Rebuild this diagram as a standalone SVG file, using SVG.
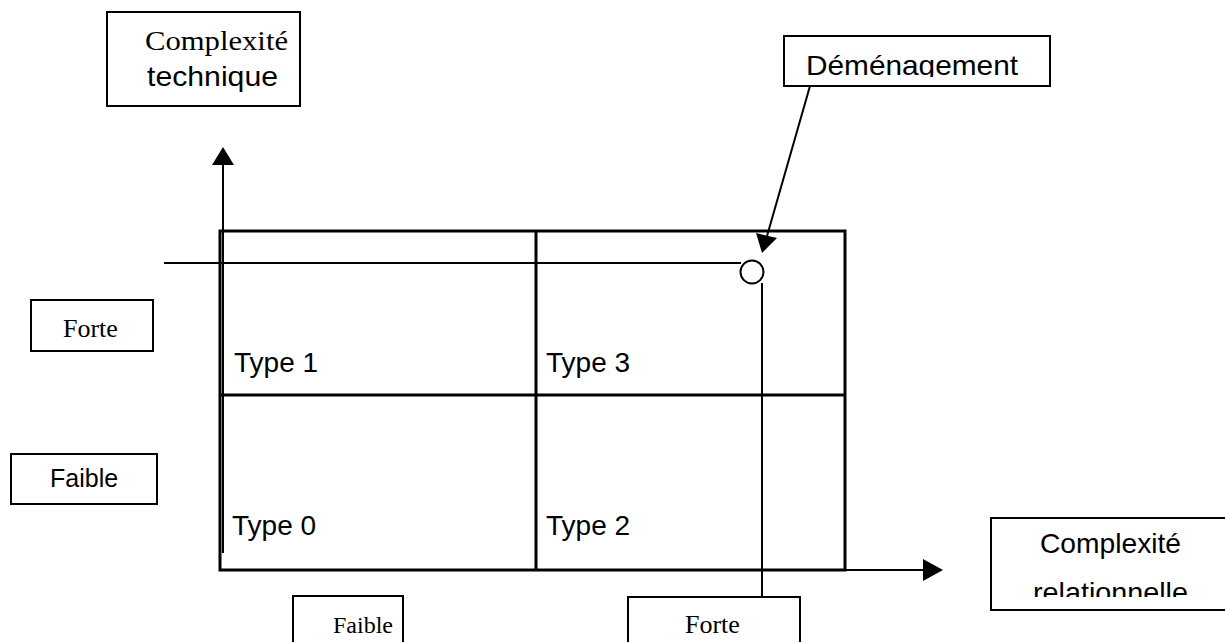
<svg xmlns="http://www.w3.org/2000/svg" width="1225" height="642" viewBox="0 0 1225 642">
<style>
.box{fill:#fff;stroke:#000;stroke-width:2}
.sans{font-family:"Liberation Sans",Arial,sans-serif;fill:#000}
.serif{font-family:"Liberation Serif","Times New Roman",serif;fill:#000}
.thin{stroke:#000;stroke-width:2;fill:none}
.grid{stroke:#000;stroke-width:3;fill:none}
</style>
<defs>
<clipPath id="clipDem"><rect x="784" y="36" width="266" height="41"/></clipPath>
<clipPath id="clipRel"><rect x="991" y="500" width="234" height="97"/></clipPath>
</defs>

<g id="matrix">
<rect class="grid" x="220" y="231" width="625" height="339"/>
<line class="grid" x1="536" y1="231" x2="536" y2="570"/>
<line class="grid" x1="220" y1="395" x2="845" y2="395"/>
</g>

<g id="connectors">
<line class="thin" x1="223" y1="553" x2="223" y2="165"/>
<path d="M212,165 L234,165 L223,147 z" fill="#000"/>
<line class="thin" x1="845" y1="570" x2="923" y2="570"/>
<path d="M923,559 L923,581 L943,570 z" fill="#000"/>
<line class="thin" x1="164" y1="263" x2="741" y2="263"/>
<line class="thin" x1="762" y1="283" x2="762" y2="618"/>
<line class="thin" x1="810" y1="86" x2="767" y2="236"/>
<path d="M762,253 L756,233 L777,238 z" fill="#000"/>
</g>

<g id="point"><circle cx="752" cy="272" r="11.5" fill="#fff" stroke="#000" stroke-width="2"/></g>

<g id="cells">
<text class="sans" x="234" y="372" font-size="28">Type 1</text>
<text class="sans" x="546" y="372" font-size="28">Type 3</text>
<text class="sans" x="232" y="535" font-size="28">Type 0</text>
<text class="sans" x="546" y="535" font-size="28">Type 2</text>
</g>

<g id="label-tech">
<rect class="box" x="107" y="12" width="193" height="94"/>
<text class="serif" x="145" y="50" font-size="28" textLength="143" lengthAdjust="spacingAndGlyphs">Complexité</text>
<text class="sans" x="147" y="86" font-size="28" textLength="131" lengthAdjust="spacingAndGlyphs">technique</text>
</g>

<g id="label-dem">
<rect class="box" x="784" y="36" width="266" height="50"/>
<text class="sans" x="806" y="75" font-size="28" textLength="212" lengthAdjust="spacingAndGlyphs" clip-path="url(#clipDem)">Déménagement</text>
</g>

<g id="label-rel">
<rect class="box" x="991" y="518" width="240" height="92"/>
<text class="sans" x="1040" y="553" font-size="28" textLength="141" lengthAdjust="spacingAndGlyphs">Complexité</text>
<text class="sans" x="1033" y="602" font-size="28" textLength="155" lengthAdjust="spacingAndGlyphs" clip-path="url(#clipRel)">relationnelle</text>
</g>

<g id="y-forte">
<rect class="box" x="31" y="300" width="122" height="51"/>
<text class="serif" x="63" y="337" font-size="26">Forte</text>
</g>

<g id="y-faible">
<rect class="box" x="11" y="454" width="146" height="50"/>
<text class="sans" x="50" y="487" font-size="25">Faible</text>
</g>

<g id="x-faible">
<rect class="box" x="293" y="596" width="110" height="60"/>
<text class="serif" x="333" y="633" font-size="24">Faible</text>
</g>

<g id="x-forte">
<rect class="box" x="628" y="597" width="172" height="60"/>
<text class="serif" x="685" y="633" font-size="26">Forte</text>
</g>
</svg>
